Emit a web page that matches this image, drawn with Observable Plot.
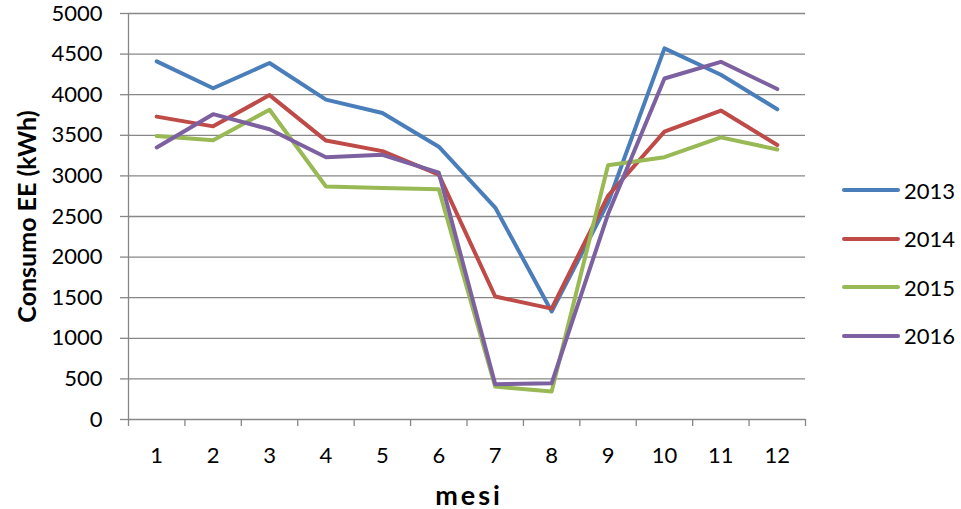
<!DOCTYPE html>
<html>
<head>
<meta charset="utf-8">
<script src="https://cdn.jsdelivr.net/npm/d3@7"></script>
<script src="https://cdn.jsdelivr.net/npm/@observablehq/plot@0.6"></script>
<style>
  html, body { margin: 0; padding: 0; background: #fff; }
  #chart { position: relative; width: 961px; height: 509px; font-family: Lato, "Open Sans", sans-serif; }
  #legend { position: absolute; left: 841px; top: 166px; }
  #legend .item { display: flex; align-items: center; height: 48.5px; font-size: 22px; color: #000; }
  #legend svg { margin-right: 3px; }
</style>
</head>
<body>
<div id="chart"></div>
<script>
// Monthly electricity consumption (kWh) per year
const months = [1, 2, 3, 4, 5, 6, 7, 8, 9, 10, 11, 12];
const years = ["2013", "2014", "2015", "2016"];
const colors = ["#4A7EBB", "#BE4B48", "#98B954", "#7D60A0"];

const consumo2013 = [4410, 4080, 4390, 3940, 3775, 3360, 2610, 1330, 2670, 4570, 4245, 3820];
const consumo2014 = [3730, 3610, 3995, 3435, 3305, 3015, 1515, 1365, 2755, 3545, 3805, 3380];
const consumo2015 = [3490, 3440, 3815, 2870, 2850, 2835, 405, 345, 3130, 3230, 3475, 3325];
const consumo2016 = [3350, 3760, 3575, 3230, 3260, 3040, 435, 445, 2530, 4200, 4405, 4070];

const yTicks = [0, 500, 1000, 1500, 2000, 2500, 3000, 3500, 4000, 4500, 5000];

const series = [consumo2013, consumo2014, consumo2015, consumo2016];
const rows = years.flatMap((year, i) =>
  months.map((month, j) => ({year, month, value: series[i][j]}))
);

// category boundaries for the tick marks between months
const bounds = [months[0] - 0.5, ...months.map(m => m + 0.5)];

const grid = "#878787";

const chart = Plot.plot({
  width: 961,
  height: 509,
  marginLeft: 128,
  marginRight: 156,
  marginTop: 13,
  marginBottom: 90,
  style: {fontFamily: "Lato, 'Open Sans', sans-serif", fontSize: "22px", color: "#000", background: "#fff", overflow: "visible"},
  x: {domain: [bounds[0], bounds[bounds.length - 1]], axis: null},
  y: {domain: [0, 5000], axis: null},
  color: {domain: years, range: colors},
  marks: [
    Plot.ruleY(yTicks, {stroke: grid, strokeWidth: 1.3}),
    Plot.ruleX([bounds[0]], {stroke: grid, strokeWidth: 1.3}),
    Plot.axisY({ticks: yTicks, tickSize: 8, tickPadding: 18, stroke: grid, strokeWidth: 1.3, fill: "#000", fontSize: 22, tickFormat: d => String(d), label: null}),
    Plot.axisX({ticks: bounds, tickSize: 7, tickFormat: () => "", stroke: grid, strokeWidth: 1.3, label: null}),
    Plot.axisX({ticks: months, tickSize: 0, tickPadding: 28, fill: "#000", fontSize: 22, tickFormat: d => String(d), label: null}),
    Plot.line(rows, {x: "month", y: "value", z: "year", stroke: "year", strokeWidth: 4, strokeLinejoin: "round", strokeLinecap: "round"}),
    Plot.text(["mesi"], {frameAnchor: "bottom", dy: 85, dx: 2, lineAnchor: "bottom", textAnchor: "middle", fontSize: 27, fontWeight: "bold", fill: "#000", className: "xtitle"}),
    Plot.text(["Consumo EE (kWh)"], {frameAnchor: "left", dx: -93, rotate: -90, lineAnchor: "bottom", textAnchor: "middle", fontSize: 25, fontWeight: "bold", fill: "#000"})
  ]
});

// slightly wider tracking for the x title
d3.select(chart).selectAll(".xtitle text").style("letter-spacing", "3px");

const root = document.getElementById("chart");
root.appendChild(chart);

// legend to the right of the plot area
const legend = document.createElement("div");
legend.id = "legend";
years.forEach((year, i) => {
  const item = document.createElement("div");
  item.className = "item";
  item.innerHTML = `<svg width="60" height="10"><line x1="3" y1="5" x2="57" y2="5" stroke="${colors[i]}" stroke-width="4" stroke-linecap="round"/></svg><span>${year}</span>`;
  legend.appendChild(item);
});
root.appendChild(legend);
</script>
</body>
</html>
